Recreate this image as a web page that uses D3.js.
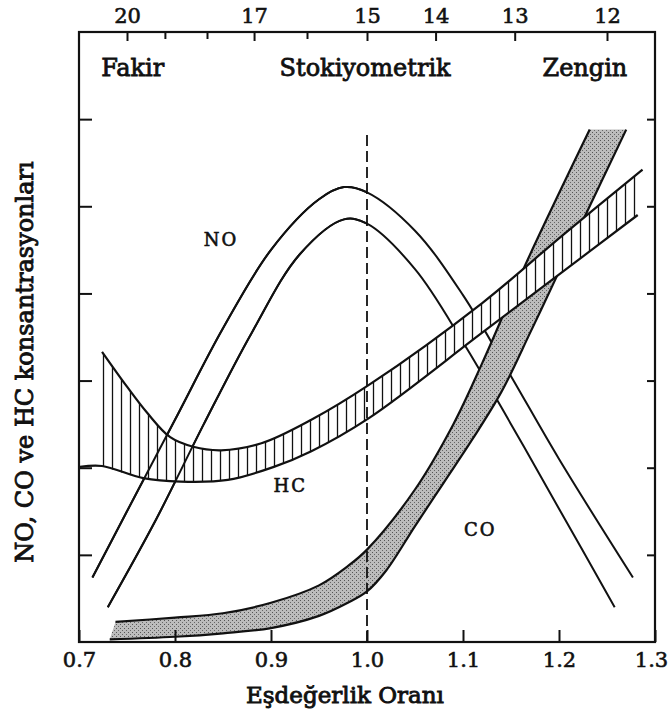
<!DOCTYPE html>
<html>
<head>
  <meta charset="utf-8">
  <title>NO CO HC</title>
  <script src="https://d3js.org/d3.v7.min.js"></script>
  <style>
    body { margin: 0; background: #fff; }
    text { font-family: "DejaVu Serif", "Liberation Serif", serif; fill: #111; stroke: #111; stroke-width: 0.6px; }
  </style>
</head>
<body>
  <script>
    // x ticks (equivalence ratio) and top ticks (air/fuel ratio)
    const phiTicks = [0.7, 0.8, 0.9, 1.0, 1.1, 1.2, 1.3];
    const afrLabels = [20, 17, 15, 14, 13, 12];
    const afrMinor = [19, 18, 16];
    const yTicks = [1, 2, 3, 4, 5, 6];

    // NO band: [phi, value]
    const noOuter = [[0.714,0.74],[0.75,1.50],[0.80,2.55],[0.85,3.60],[0.90,4.50],[0.95,5.08],[0.976,5.22],[1.00,5.16],[1.05,4.72],[1.10,3.98],[1.15,3.05],[1.20,2.10],[1.277,0.74]];
    const noInner = [[0.730,0.40],[0.78,1.40],[0.83,2.50],[0.88,3.55],[0.93,4.45],[0.976,4.85],[1.00,4.80],[1.05,4.28],[1.10,3.44],[1.15,2.50],[1.20,1.53],[1.258,0.40]];

    // HC band
    const hcUpper = [[0.724,3.33],[0.750,2.93],[0.771,2.63],[0.795,2.35],[0.819,2.24],[0.848,2.20],[0.890,2.28],[0.942,2.55],[1.002,2.95],[1.120,3.89],[1.204,4.67],[1.287,5.42]];
    const hcLower = [[0.701,2.01],[0.724,2.02],[0.767,1.88],[0.806,1.84],[0.855,1.86],[0.903,2.01],[0.942,2.19],[1.002,2.57],[1.120,3.55],[1.204,4.25],[1.282,4.90]];

    // CO band
    const coUpper = [[0.738,0.23],[0.80,0.28],[0.85,0.33],[0.90,0.45],[0.95,0.65],[0.98,0.87],[1.00,1.06],[1.05,1.75],[1.09,2.50],[1.12,3.20],[1.165,4.33],[1.232,5.88]];
    const coLower = [[0.732,0.03],[0.80,0.06],[0.85,0.10],[0.90,0.16],[0.95,0.30],[0.98,0.45],[1.00,0.58],[1.02,0.82],[1.05,1.33],[1.08,1.83],[1.11,2.33],[1.14,2.87],[1.17,3.55],[1.20,4.25],[1.225,4.84],[1.270,5.88]];

    const width = 670, height = 713;
    const margin = {top: 32, right: 15, bottom: 71, left: 79};

    const svg = d3.select("body").append("svg")
      .attr("width", width)
      .attr("height", height);

    const x = d3.scaleLinear().domain([0.7, 1.3]).range([margin.left, width - margin.right]);
    const y = d3.scaleLinear().domain([0, 7]).range([height - margin.bottom, margin.top]);

    const defs = svg.append("defs");

    // vertical hatching for HC
    const hatch = defs.append("pattern")
      .attr("id", "hatch")
      .attr("patternUnits", "userSpaceOnUse")
      .attr("width", 9).attr("height", 10);
    hatch.append("rect").attr("width", 9).attr("height", 10).attr("fill", "#fff");
    hatch.append("line")
      .attr("x1", 4.5).attr("x2", 4.5).attr("y1", 0).attr("y2", 10)
      .attr("stroke", "#111").attr("stroke-width", 1.3);

    // grey stipple for CO
    const dots = defs.append("pattern")
      .attr("id", "dots")
      .attr("patternUnits", "userSpaceOnUse")
      .attr("width", 4).attr("height", 4);
    dots.append("rect").attr("width", 4).attr("height", 4).attr("fill", "#bcbcbc");
    dots.append("rect").attr("x", 0).attr("y", 0).attr("width", 1).attr("height", 1).attr("fill", "#555");
    dots.append("rect").attr("x", 2).attr("y", 2).attr("width", 1).attr("height", 1).attr("fill", "#666");

    defs.append("clipPath").attr("id", "leftHalf")
      .append("rect")
      .attr("x", margin.left).attr("y", margin.top)
      .attr("width", x(1.0) - margin.left).attr("height", y(0) - margin.top);

    const line = d3.line()
      .x(d => x(d[0]))
      .y(d => y(d[1]))
      .curve(d3.curveCatmullRom);

    function band(upper, lower) {
      return line(upper) + line(lower.slice().reverse()).replace(/^M/, "L") + "Z";
    }

    function stroke(sel, data, w) {
      return sel.append("path")
        .attr("d", line(data))
        .attr("fill", "none")
        .attr("stroke", "#111")
        .attr("stroke-width", w);
    }

    // NO curves
    [noOuter, noInner].forEach(c => stroke(svg, c, 2));

    // CO band
    svg.append("path")
      .attr("d", band(coUpper, coLower))
      .attr("fill", "url(#dots)");
    [coUpper, coLower].forEach(c => stroke(svg, c, 2.2));

    // HC band
    svg.append("path")
      .attr("d", band(hcUpper, hcLower.filter(d => d[0] >= hcUpper[0][0])))
      .attr("fill", "url(#hatch)");
    [hcUpper, hcLower].forEach(c => stroke(svg, c, 2.2));

    // NO lines visible through the HC hatching on the lean side
    [noOuter, noInner].forEach(c => stroke(svg, c, 2).attr("clip-path", "url(#leftHalf)"));

    // stoichiometric dashed line
    svg.append("line")
      .attr("x1", x(1.0)).attr("x2", x(1.0))
      .attr("y1", 135).attr("y2", y(0))
      .attr("stroke", "#111")
      .attr("stroke-width", 1.8)
      .attr("stroke-dasharray", "11,5");

    // axes
    const fmt = d3.format(".1f");
    const axBottom = svg.append("g")
      .attr("transform", `translate(0,${y(0)})`)
      .call(d3.axisBottom(x).tickValues(phiTicks).tickFormat(fmt).tickSize(-12).tickPadding(10));
    const axTop = svg.append("g")
      .attr("transform", `translate(0,${margin.top})`)
      .call(d3.axisTop(x).tickValues(afrLabels.map(a => 15 / a)).tickFormat(d => Math.round(15 / d)).tickSize(-9).tickPadding(9));
    const axTopMinor = svg.append("g")
      .attr("transform", `translate(0,${margin.top})`)
      .call(d3.axisTop(x).tickValues(afrMinor.map(a => 15 / a)).tickFormat("").tickSize(-7));
    const axLeft = svg.append("g")
      .attr("transform", `translate(${margin.left},0)`)
      .call(d3.axisLeft(y).tickValues(yTicks).tickFormat("").tickSize(-13));
    const axRight = svg.append("g")
      .attr("transform", `translate(${width - margin.right},0)`)
      .call(d3.axisRight(y).tickValues(yTicks).tickFormat("").tickSize(-8));

    [axBottom, axTop, axTopMinor, axLeft, axRight].forEach(g => {
      g.select(".domain").remove();
      g.selectAll(".tick line").attr("stroke", "#111").attr("stroke-width", 2);
      g.selectAll("text")
        .attr("font-family", "DejaVu Serif, serif")
        .attr("font-size", 21)
        .attr("fill", "#111");
    });
    // keep the last label inside the page
    axBottom.selectAll(".tick text").filter(d => d === 1.3).attr("dx", -4);

    // frame
    svg.append("rect")
      .attr("x", margin.left).attr("y", margin.top)
      .attr("width", width - margin.left - margin.right)
      .attr("height", height - margin.top - margin.bottom)
      .attr("fill", "none")
      .attr("stroke", "#111")
      .attr("stroke-width", 2.2);

    // region labels
    const regions = [["Fakir", 0.756], ["Stokiyometrik", 0.998], ["Zengin", 1.227]];
    svg.selectAll(".region")
      .data(regions)
      .join("text")
      .attr("class", "region")
      .attr("x", d => x(d[1]))
      .attr("y", 76)
      .attr("text-anchor", "middle")
      .attr("font-size", 24)
      .style("stroke-width", "0.8px")
      .text(d => d[0]);

    // curve labels
    const curveLabels = [["NO", 0.848, 4.55], ["HC", 0.920, 1.72], ["CO", 1.118, 1.22]];
    svg.selectAll(".clabel")
      .data(curveLabels)
      .join("text")
      .attr("class", "clabel")
      .attr("x", d => x(d[1]))
      .attr("y", d => y(d[2]))
      .attr("text-anchor", "middle")
      .attr("font-size", 18)
      .attr("letter-spacing", 2)
      .text(d => d[0]);

    // axis titles
    svg.append("text")
      .attr("x", 345)
      .attr("y", 703)
      .attr("text-anchor", "middle")
      .attr("font-size", 23)
      .style("stroke-width", "0.9px")
      .text("Eşdeğerlik Oranı");

    svg.append("text")
      .attr("transform", `translate(33,362) rotate(-90)`)
      .attr("text-anchor", "middle")
      .attr("font-size", 24)
      .style("stroke-width", "0.9px")
      .text("NO, CO ve HC konsantrasyonları");
  </script>
</body>
</html>
